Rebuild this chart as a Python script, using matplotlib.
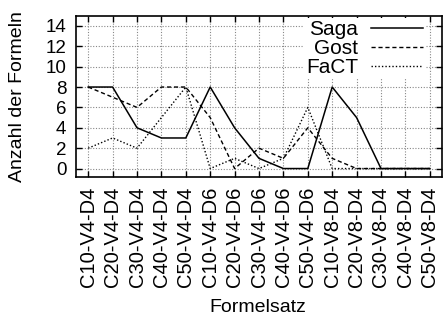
import matplotlib
matplotlib.use("Agg")
import matplotlib.pyplot as plt

plt.rcParams['font.family'] = ['Liberation Sans', 'DejaVu Sans']

categories = ["C10-V4-D4", "C20-V4-D4", "C30-V4-D4", "C40-V4-D4", "C50-V4-D4",
              "C10-V4-D6", "C20-V4-D6", "C30-V4-D6", "C40-V4-D6", "C50-V4-D6",
              "C10-V8-D4", "C20-V8-D4", "C30-V8-D4", "C40-V8-D4", "C50-V8-D4"]
saga = [8, 8, 4, 3, 3, 8, 4, 1, 0, 0, 8, 5, 0, 0, 0]
gost = [8, 7, 6, 8, 8, 5, 0, 2, 1, 4, 1, 0, 0, 0, 0]
fact = [2, 3, 2, 5, 8, 0, 1, 0, 1, 6, 0, 0, 0, 0, 0]
yticks = [0, 2, 4, 6, 8, 10, 12, 14]

fig = plt.figure(figsize=(4.43, 3.25), dpi=100)
ax = fig.add_axes([76/443, 1-176.7/325, 366/443, (176.7-15.7)/325])

x = range(len(categories))
ax.plot(x, saga, color='black', lw=1.1, ls='-', label='Saga')
ax.plot(x, gost, color='black', lw=1.0, ls=(0, (3, 2)), label='Gost')
ax.plot(x, fact, color='black', lw=1.0, ls=(0, (1, 1.5)), label='FaCT')

ax.set_xlim(-0.5, 14.5)
ax.set_ylim(-0.8, 15)
ax.set_xticks(list(x))
ax.set_xticklabels(categories, rotation=90, fontsize=14.5)
ax.set_yticks(yticks)
ax.set_yticklabels([str(v) for v in yticks], fontsize=13.5)
ax.tick_params(direction='in', length=4, top=True, right=True, width=1)
ax.tick_params(axis='x', pad=7)
ax.tick_params(axis='y', pad=7)
ax.grid(True, color='#888888', ls=(0, (1, 1.5)), lw=0.8)
for s in ax.spines.values():
    s.set_linewidth(1.2)

ax.set_ylabel('Anzahl der Formeln', fontsize=14, va='center')
ax.yaxis.set_label_coords((18 - 76) / 366, 0.5)
ax.set_xlabel('Formelsatz', fontsize=14, va='center')
ax.xaxis.set_label_coords((258 - 76) / 366, (176.7 - 307) / 161)

leg = ax.legend(loc='upper right', bbox_to_anchor=((427 - 76) / 366, 1.0),
                bbox_transform=ax.transAxes, markerfirst=False, fontsize=15,
                handlelength=2.5, handletextpad=0.6, labelspacing=0.0,
                frameon=True, fancybox=False, borderpad=0.1, borderaxespad=0.1)
leg.get_frame().set_edgecolor('none')
leg.get_frame().set_facecolor('white')
leg.get_frame().set_alpha(1)

fig.savefig('out.png', dpi=100)
